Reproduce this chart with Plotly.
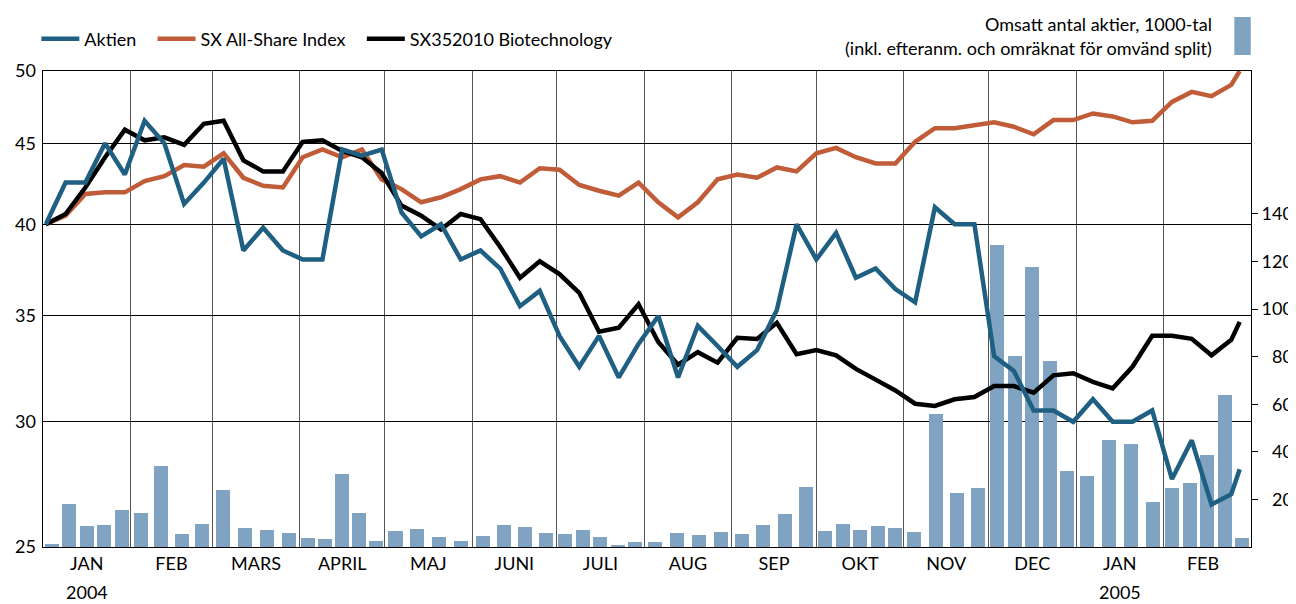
import pandas as pd
import plotly.graph_objects as go

# ---------------- data ----------------
dates = list(pd.date_range("2004-01-02", "2005-02-25", freq="7D")) + [pd.Timestamp("2005-02-28")]

aktien = [40.0, 42.5, 42.5, 45.0, 43.0, 46.5, 45.0, 41.2, 42.5, 44.0,
          38.5, 39.8, 38.5, 38.0, 38.0, 44.6, 44.2, 44.6, 40.7, 39.3,
          40.0, 38.0, 38.5, 37.5, 35.5, 36.3, 34.0, 32.5, 34.0, 32.0,
          33.6, 35.0, 32.0, 34.5, 33.5, 32.5, 33.3, 35.3, 40.0, 38.0,
          39.5, 37.0, 37.5, 36.4, 35.7, 41.0, 40.0, 40.0, 33.0, 32.3,
          30.5, 30.5, 30.0, 31.0, 30.0, 30.0, 30.5, 27.6, 29.2, 26.6,
          27.0, 28.0]

allshare = [40.0, 40.5, 41.8, 41.9, 41.9, 42.6, 42.9, 43.6, 43.5, 44.35,
            42.8, 42.3, 42.2, 44.1, 44.6, 44.1, 44.6, 42.7, 42.1, 41.3,
            41.6, 42.1, 42.7, 42.9, 42.5, 43.4, 43.3, 42.35, 42.0, 41.7,
            42.5, 41.3, 40.4, 41.3, 42.7, 43.0, 42.8, 43.45, 43.2, 44.35,
            44.7, 44.1, 43.7, 43.7, 45.1, 46.0, 46.0, 46.2, 46.4, 46.1,
            45.6, 46.55, 46.55, 47.0, 46.8, 46.4, 46.5, 47.8, 48.5, 48.2,
            49.0, 50.0]

biotech = [40.0, 40.6, 42.2, 44.1, 45.9, 45.2, 45.4, 44.9, 46.3, 46.5,
           43.9, 43.2, 43.2, 45.1, 45.2, 44.5, 44.1, 43.1, 41.1, 40.5,
           39.7, 40.6, 40.3, 38.7, 37.0, 37.9, 37.2, 36.2, 34.2, 34.4,
           35.6, 33.7, 32.6, 33.2, 32.7, 33.9, 33.85, 34.65, 33.1, 33.3,
           33.05, 32.4, 31.9, 31.4, 30.8, 30.7, 31.0, 31.1, 31.6, 31.6,
           31.3, 32.1, 32.2, 31.8, 31.5, 32.5, 34.0, 34.0, 33.85, 33.05,
           33.8, 34.7]

volume = [1.4, 18.0, 8.7, 9.1, 15.4, 14.2, 33.9, 5.3, 9.5, 23.8,
          7.9, 7.0, 5.8, 3.7, 3.2, 30.6, 14.2, 2.4, 6.6, 7.4,
          4.1, 2.4, 4.5, 9.1, 8.3, 5.8, 5.3, 7.0, 4.1, 0.7,
          2.0, 2.0, 5.8, 4.9, 6.2, 5.3, 9.1, 13.7, 25.1, 6.6,
          9.5, 7.0, 8.7, 7.9, 6.2, 55.8, 22.6, 24.7, 126.8, 80.2,
          117.6, 78.1, 31.8, 29.7, 44.9, 43.2, 18.8, 24.7, 26.8, 38.6,
          63.8, 3.7]

month_labels = ["JAN", "FEB", "MARS", "APRIL", "MAJ", "JUNI", "JULI",
                "AUG", "SEP", "OKT", "NOV", "DEC", "JAN", "FEB"]
year_labels = ["2004", "2005"]
left_ticks = [25, 30, 35, 40, 45, 50]
right_ticks = [20, 40, 60, 80, 100, 120, 140]

names = ["Aktien", "SX All-Share Index", "SX352010 Biotechnology"]
vol_title = ["Omsatt antal aktier, 1000-tal",
             "(inkl. efteranm. och omräknat för omvänd split)"]

# ---------------- derived positions ----------------
axis_start = pd.Timestamp("2004-01-01")
axis_end = pd.Timestamp("2005-03-04")
month_starts = list(pd.date_range("2004-01-01", "2005-02-01", freq="MS"))
month_next = month_starts[1:] + [pd.Timestamp("2005-03-01")]
month_mids = [a + (b - a) / 2 for a, b in zip(month_starts, month_next)]

# volume bars are spread evenly over the weeks of each month
bar_x = []
groups = {}
for d in dates:
    groups.setdefault((d.year, d.month), []).append(d)
for i, (key, ds) in enumerate(groups.items()):
    s = pd.Timestamp(year=key[0], month=key[1], day=1)
    e = month_next[i] if i < len(groups) - 1 else axis_end
    n = len(ds)
    for k in range(n):
        bar_x.append(s + (e - s) * ((k + 0.5) / n))

FONT = "Lato"
C_BLUE = "#1f5f82"
C_ORANGE = "#c05c38"
C_BLACK = "#000000"
C_BAR = "#7fa3c0"
PAD = "\u2002\u2009"  # spacing after legend entries

fig = go.Figure()
fig.add_trace(go.Bar(x=bar_x, y=volume, width=5 * 86400000, marker=dict(color=C_BAR, line=dict(width=0)),
                     xaxis="x", yaxis="y", showlegend=False, hoverinfo="skip"))
fig.add_trace(go.Scatter(x=dates, y=allshare, mode="lines", name=names[1] + PAD, legendrank=2,
                         line=dict(color=C_ORANGE, width=4.5), xaxis="x", yaxis="y2"))
fig.add_trace(go.Scatter(x=dates, y=biotech, mode="lines", name=names[2], legendrank=3,
                         line=dict(color=C_BLACK, width=4.5), xaxis="x", yaxis="y2"))
fig.add_trace(go.Scatter(x=dates, y=aktien, mode="lines", name=names[0] + PAD, legendrank=1,
                         line=dict(color=C_BLUE, width=4.5), xaxis="x", yaxis="y2"))

annotations = []
for yl, m in zip(year_labels, [month_mids[0], month_mids[12]]):
    annotations.append(dict(x=m, y=-0.095, xref="x", yref="paper", text=yl, showarrow=False,
                            xanchor="center", yanchor="middle", font=dict(size=18, color="black", family=FONT)))
annotations.append(dict(x=0.9695, y=1.099, xref="paper", yref="paper", text=vol_title[0], showarrow=False,
                        xanchor="right", yanchor="middle", font=dict(size=18, color="black", family=FONT)))
annotations.append(dict(x=0.9695, y=1.048, xref="paper", yref="paper", text=vol_title[1], showarrow=False,
                        xanchor="right", yanchor="middle", font=dict(size=18, color="black", family=FONT)))

# the page body has an 8px default margin, so the figure is sized/margined to compensate
fig.update_layout(
    width=1288, height=596,
    margin=dict(l=35, r=45, t=63, b=57, autoexpand=False),
    paper_bgcolor="white", plot_bgcolor="white",
    font=dict(family=FONT, size=18, color="black"),
    bargap=0,
    showlegend=True,
    legend=dict(orientation="h", x=-0.0055, y=1.067, xanchor="left", yanchor="middle",
                font=dict(size=18, family=FONT), itemwidth=38, bgcolor="rgba(0,0,0,0)"),
    xaxis=dict(type="date", range=[axis_start, axis_end],
               tickvals=month_mids, ticktext=month_labels, ticks="", showgrid=False,
               minor=dict(tickvals=month_starts, showgrid=True, gridcolor="#555555", gridwidth=1, ticks=""),
               showline=True, mirror=True, linecolor="black", linewidth=1, zeroline=False,
               tickfont=dict(size=18, family=FONT)),
    yaxis=dict(side="right", range=[0, 200], tickvals=right_ticks,
               ticktext=[f"{v:>3}".replace(" ", "\u2007") for v in right_ticks],
               ticks="outside", ticklen=6, tickcolor="black", tickwidth=1,
               showgrid=False, zeroline=False, showline=True, mirror=True,
               linecolor="black", linewidth=1, tickfont=dict(size=18, family=FONT)),
    yaxis2=dict(overlaying="y", side="left", type="log", range=[1.39794, 1.69897],
                tickvals=left_ticks, ticktext=[str(v) for v in left_ticks], ticks="",
                ticklabelstandoff=6,
                showgrid=True, gridcolor="#000000", gridwidth=1, zeroline=False, showline=False,
                tickfont=dict(size=18, family=FONT)),
    annotations=annotations,
    shapes=[dict(type="rect", xref="paper", yref="paper", x0=0.9862, x1=0.9998, y0=1.0336, y1=1.1135,
                 fillcolor=C_BAR, line=dict(width=0))],
)

fig.write_html("out.html")
